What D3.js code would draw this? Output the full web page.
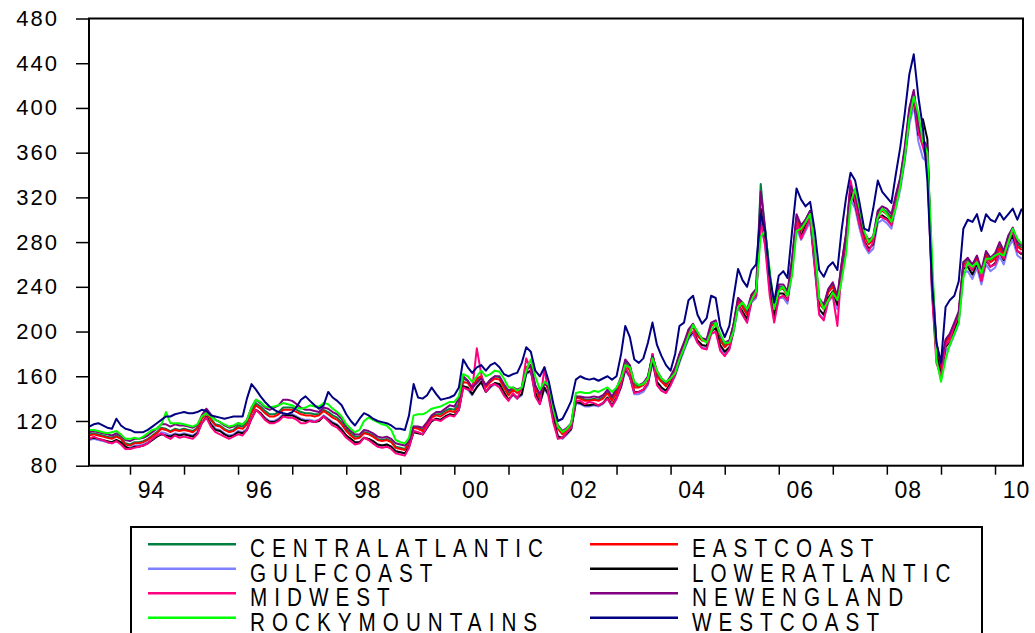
<!DOCTYPE html>
<html>
<head>
<meta charset="utf-8">
<script src="https://cdn.jsdelivr.net/npm/d3@7"></script>
<style>
  body { margin: 0; background: #fff; }
  svg { display: block; }
</style>
</head>
<body>
<svg></svg>
<script>
// monthly readings, Apr 1993 .. Jul 2010 (one row per year)
let firstMonth = new Date(1993, 3, 1)
let lastMonth = new Date(2010, 6, 1)
let dates = d3.timeMonth.range(firstMonth, d3.timeMonth.offset(lastMonth, 1))

let yTicks = [80, 120, 160, 200, 240, 280, 320, 360, 400, 440, 480]
let labelYears = [1994, 1996, 1998, 2000, 2002, 2004, 2006, 2008, 2010]

let names = ['CENTRALATLANTIC', 'EASTCOAST', 'GULFCOAST', 'LOWERATLANTIC',
             'MIDWEST', 'NEWENGLAND', 'ROCKYMOUNTAINS', 'WESTCOAST']
let colors = ['#007f3f', '#ff0000', '#8080ff', '#000000',
              '#ff0080', '#800080', '#00ff00', '#000080']

let centralAtlantic = [
  108,109,108,107,106,105,107,105,100,
  99,101,101,102,104,107,110,114,113,111,113,112,
  113,112,111,114,123,128,122,117,116,113,111,112,
  116,115,119,129,136,133,129,126,126,128,132,132,
  132,130,128,127,127,126,126,130,128,125,123,119,
  113,109,106,106,110,109,107,104,103,104,102,97,
  96,95,101,115,114,112,118,124,126,126,129,131,
  130,136,158,156,150,156,159,152,157,160,159,152,
  145,149,146,149,168,170,151,142,155,149,126,114,
  109,113,117,142,141,139,139,140,139,141,146,140,
  147,157,173,167,152,151,153,159,180,162,156,152,
  159,167,179,190,200,206,197,193,192,206,208,194,
  188,191,206,230,224,217,233,238,332,290,248,220,
  240,240,234,264,302,292,300,308,268,228,222,237,
  242,230,260,287,330,320,302,287,280,284,307,310,
  307,302,320,337,362,398,414,383,370,362,248,187,
  167,192,197,207,217,262,264,257,267,252,270,264,
  267,277,270,285,292,278,275
]

let eastCoast = [
  107,108,107,106,105,104,106,104,99,
  98,100,100,101,103,106,109,113,112,110,112,111,
  112,111,110,113,122,127,121,116,115,112,110,111,
  114,113,117,127,134,131,127,124,124,126,130,130,
  130,128,126,125,125,124,125,129,126,123,121,117,
  111,107,104,105,109,108,106,103,102,103,101,96,
  95,94,100,114,113,111,117,123,125,124,127,129,
  128,133,155,154,148,158,160,150,155,158,157,150,
  143,148,145,148,168,170,150,140,155,148,125,113,
  108,112,116,141,140,138,138,139,138,140,145,138,
  145,155,171,165,150,150,152,158,179,160,155,151,
  158,166,178,189,199,204,196,192,191,205,207,192,
  186,190,205,228,222,215,232,236,297,285,245,218,
  238,238,232,262,300,290,298,306,265,225,220,235,
  240,228,258,285,328,318,300,285,278,282,305,308,
  305,300,318,335,360,395,412,380,368,360,245,185,
  165,190,195,205,215,260,262,255,265,250,268,262,
  265,275,268,283,290,276,273
]

let gulfCoast = [
  103,104,103,102,101,100,102,100,96,
  96,98,98,99,101,103,106,110,109,107,109,108,
  109,108,107,110,118,123,118,113,112,109,107,108,
  111,110,113,123,130,127,123,120,120,122,126,126,
  126,124,122,121,121,120,121,125,122,119,117,113,
  107,103,100,101,105,104,102,99,98,99,97,93,
  92,91,97,111,110,108,114,120,122,121,124,126,
  125,130,150,148,143,151,154,146,150,153,152,145,
  139,143,140,143,162,164,144,135,149,142,120,107,
  104,108,112,136,135,133,133,134,133,135,140,133,
  140,150,165,159,144,144,146,152,172,154,149,145,
  152,160,172,183,193,198,190,186,185,198,200,186,
  180,184,199,221,215,208,226,230,295,278,236,210,
  230,230,225,254,292,282,290,298,256,216,211,226,
  232,220,250,277,318,310,292,277,270,274,297,300,
  297,292,310,327,352,385,402,370,355,352,236,177,
  157,182,187,197,207,252,254,247,257,242,260,254,
  257,267,260,275,282,268,265
]

let lowerAtlantic = [
  104,105,104,103,102,101,103,101,97,
  95,97,97,98,100,103,106,108,107,106,108,107,
  108,107,106,109,118,124,117,112,111,108,106,107,
  110,109,112,122,130,127,122,119,119,121,125,125,
  125,123,121,120,120,119,120,124,121,118,116,112,
  107,104,101,101,105,104,102,99,98,99,97,93,
  92,91,97,110,109,108,114,120,122,121,124,126,
  125,130,151,150,144,150,155,146,151,154,153,146,
  139,144,141,144,163,165,145,136,150,143,121,106,
  105,109,113,137,136,134,134,135,134,136,141,134,
  141,151,167,160,146,146,148,154,174,155,150,147,
  154,162,174,185,195,200,192,188,187,200,203,188,
  182,186,201,224,218,211,228,232,310,282,240,214,
  234,234,228,258,296,286,294,302,260,220,215,230,
  236,224,254,281,324,314,296,281,274,278,301,304,
  301,296,314,331,356,391,408,376,390,372,240,180,
  161,186,191,201,211,256,258,251,261,246,264,258,
  261,271,264,279,286,272,269
]

let midwest = [
  104,106,104,103,101,100,102,99,95,
  95,96,97,98,100,104,107,109,106,104,107,105,
  106,105,104,108,118,123,115,110,108,106,104,106,
  108,107,112,122,130,126,121,118,118,120,124,123,
  123,121,118,118,120,119,121,124,120,116,114,110,
  105,102,99,100,105,103,100,97,96,97,95,91,
  90,89,96,111,110,108,115,121,121,120,123,125,
  124,130,150,148,148,185,162,146,152,153,150,143,
  138,145,140,150,176,166,142,135,168,140,118,104,
  105,110,114,138,138,135,137,136,134,136,140,133,
  140,153,168,160,145,146,148,154,180,152,147,145,
  152,162,176,188,197,200,190,185,184,198,200,183,
  178,184,202,225,215,208,228,232,300,276,232,208,
  230,232,228,258,298,283,292,302,258,215,210,228,
  232,205,255,285,335,316,295,280,272,280,305,302,
  300,295,318,335,358,392,410,378,365,350,235,172,
  160,188,192,205,215,258,262,255,263,245,265,258,
  260,272,265,280,290,272,270
]

let newEngland = [
  110,111,110,109,108,107,109,107,103,
  102,104,104,105,107,110,113,117,117,115,117,116,
  116,115,114,116,125,131,126,121,119,116,114,115,
  118,117,121,132,139,136,132,130,132,134,139,139,
  138,135,132,130,130,129,128,132,131,128,126,122,
  115,111,108,108,112,111,109,106,105,106,104,100,
  99,98,102,115,115,114,119,125,128,128,131,134,
  133,140,160,156,150,154,158,152,157,160,160,153,
  147,150,148,150,165,170,152,144,154,150,128,116,
  111,114,118,142,142,141,141,142,141,143,148,142,
  149,160,175,170,154,152,154,160,178,165,158,154,
  160,168,180,190,202,207,198,194,193,208,210,196,
  190,192,206,230,226,220,233,238,325,292,250,222,
  242,242,236,265,305,295,300,308,270,230,224,238,
  244,232,260,288,330,322,305,288,282,285,308,312,
  310,305,322,338,365,400,416,385,372,365,255,190,
  170,193,198,208,218,262,266,260,268,255,272,266,
  270,280,272,286,293,280,277
]

let rockyMountains = [
  112,112,111,110,109,110,111,108,104,
  104,105,104,106,109,112,113,117,128,118,118,118,
  117,116,115,117,124,127,124,121,119,117,115,116,
  118,117,121,132,139,137,133,132,133,134,136,135,
  134,132,131,132,134,133,133,136,135,131,128,124,
  117,113,110,112,120,123,121,119,117,116,112,103,
  101,100,105,125,126,126,128,131,132,133,135,137,
  137,142,162,160,155,160,165,160,162,165,164,158,
  150,150,147,150,165,175,160,148,155,152,130,115,
  110,113,118,145,146,145,145,147,146,148,150,146,
  150,158,170,168,155,152,153,158,176,165,158,155,
  158,163,175,185,196,206,200,193,190,200,208,198,
  190,190,200,222,226,220,228,236,285,290,255,220,
  236,240,232,250,290,292,298,305,275,230,220,228,
  235,228,245,270,315,328,310,290,280,285,302,310,
  305,298,310,330,355,390,410,395,370,360,270,175,
  155,175,188,198,208,248,262,258,262,252,265,265,
  268,270,268,280,292,283,278
]

let westCoast = [
  115,117,118,116,114,113,122,116,113,
  112,110,110,110,112,115,118,121,124,124,126,127,
  128,127,127,128,130,129,125,124,123,122,123,124,
  124,124,140,153,148,142,137,133,130,128,127,126,
  128,133,139,142,138,134,131,134,146,141,138,134,
  126,120,116,122,127,125,122,120,119,118,116,113,
  113,112,125,153,141,140,143,150,144,139,140,141,
  143,150,175,168,163,168,170,165,170,172,168,162,
  160,162,163,172,186,182,165,160,168,155,135,120,
  122,130,138,157,160,158,157,158,156,158,160,157,
  160,180,205,195,175,172,176,190,208,188,178,170,
  165,180,205,208,228,232,215,207,212,232,230,205,
  195,205,230,256,246,240,255,260,305,290,250,226,
  250,254,248,290,328,318,312,316,290,255,249,258,
  262,255,290,320,342,335,315,292,290,310,335,325,
  320,315,340,365,395,430,448,410,382,335,245,190,
  172,222,228,232,245,292,300,298,305,290,305,300,
  298,306,300,305,310,300,310
]

let series = [centralAtlantic, eastCoast, gulfCoast, lowerAtlantic,
              midwest, newEngland, rockyMountains, westCoast]

series.forEach((s, i) => {
    if (s.length != dates.length) console.warn(names[i], s.length, dates.length)
})

let width = 1035
let height = 633
let plotLeft = 89
let plotRight = 1023
let plotTop = 18.5
let plotBottom = 465.7
let font = "'Liberation Sans', Arial, sans-serif"

let svg = d3.select('svg')
    .attr('width', width)
    .attr('height', height)

let xScale = d3.scaleTime()
    .domain([new Date(1993, 2, 30), new Date(2010, 6, 9)])
    .range([plotLeft, plotRight])

let yScale = d3.scaleLinear()
    .domain([80, 480])
    .range([plotBottom, plotTop])

// axes
let xAxis = d3.axisBottom(xScale)
    .ticks(d3.timeYear.every(1))
    .tickSize(9)
    .tickPadding(7)
    .tickFormat(d => labelYears.includes(d.getFullYear()) ? d3.timeFormat('%y')(d) : '')

svg.append('g')
    .attr('transform', 'translate(0,' + plotBottom + ')')
    .call(xAxis)
    .attr('font-family', font)
    .attr('font-size', 23)
    .call(g => g.select('.domain').remove())
    .call(g => g.selectAll('.tick line').attr('stroke-width', 1.5))
    .call(g => g.selectAll('.tick text').attr('dx', 21).attr('letter-spacing', 1))

let yAxis = d3.axisLeft(yScale)
    .tickValues(yTicks)
    .tickSize(13)
    .tickPadding(17)

svg.append('g')
    .attr('transform', 'translate(' + plotLeft + ',0)')
    .call(yAxis)
    .attr('font-family', font)
    .attr('font-size', 22)
    .call(g => g.select('.domain').remove())
    .call(g => g.selectAll('.tick line').attr('stroke-width', 1.5))
    .call(g => g.selectAll('.tick text').attr('letter-spacing', 2))

// lines
svg.append('clipPath')
    .attr('id', 'plot-clip')
    .append('rect')
    .attr('x', plotLeft)
    .attr('y', plotTop)
    .attr('width', plotRight - plotLeft)
    .attr('height', plotBottom - plotTop)

let line = d3.line()
    .x((d, i) => xScale(dates[i]))
    .y(d => yScale(d))

svg.append('g')
    .attr('clip-path', 'url(#plot-clip)')
    .selectAll('path')
    .data(series)
    .enter()
    .append('path')
    .attr('d', line)
    .attr('fill', 'none')
    .attr('stroke', (d, i) => colors[i])
    .attr('stroke-width', 2)
    .attr('stroke-linejoin', 'round')

svg.append('rect')
    .attr('x', plotLeft)
    .attr('y', plotTop)
    .attr('width', plotRight - plotLeft)
    .attr('height', plotBottom - plotTop)
    .attr('fill', 'none')
    .attr('stroke', 'black')
    .attr('stroke-width', 2)

// legend, 2 columns
let legend = svg.append('g')

legend.append('rect')
    .attr('x', 131)
    .attr('y', 527)
    .attr('width', 851)
    .attr('height', 140)
    .attr('fill', 'white')
    .attr('stroke', 'black')
    .attr('stroke-width', 2)

names.forEach((name, i) => {
    let col = i % 2
    let row = Math.floor(i / 2)
    let lx = col ? 590 : 148
    let ly = 544.3 + row * 24.5

    legend.append('line')
        .attr('x1', lx)
        .attr('x2', lx + 88)
        .attr('y1', ly)
        .attr('y2', ly)
        .attr('stroke', colors[i])
        .attr('stroke-width', 2.5)

    legend.append('text')
        .attr('transform', 'translate(' + (lx + 102) + ',' + (ly + 13) + ') scale(0.78,1)')
        .attr('font-family', font)
        .attr('font-size', 26.5)
        .attr('letter-spacing', 9)
        .text(name)
})
</script>
</body>
</html>
